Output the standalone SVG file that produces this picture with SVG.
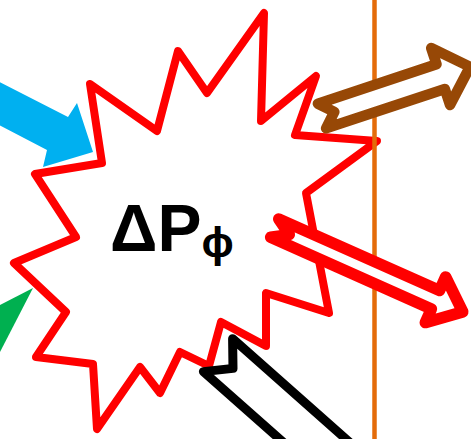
<svg xmlns="http://www.w3.org/2000/svg" width="471" height="439" viewBox="0 0 471 439">
  <style>
    .star { fill: #FFFFFF; stroke: #FF0000; stroke-width: 8; stroke-linejoin: round; }
    .outline-arrow { fill: #FFFFFF; stroke-linejoin: round; }
    .label { font-family: "Liberation Sans", Arial, sans-serif; font-weight: bold; fill: #000000; }
  </style>
  <rect width="471" height="439" fill="#FFFFFF"/>
  <g id="node-delta-p">
    <polygon class="star" points="90,84 157,131 178,51 207,93 264,13 261,121 316,76 295,135 377,141 306,193 329,313 266,293 266,346 221,322 209,366 180,352 160,393 140,367 97,429 93,364 36,357 66,312 14,263 76,237 35,174 102,163"/>
    <text class="label" x="110" y="251" font-size="66">ΔP<tspan font-size="43" dy="6">ϕ</tspan></text>
  </g>
  <g id="divider">
    <line x1="374.5" y1="0" x2="374.5" y2="439" stroke="#E46C0A" stroke-width="4.5"/>
  </g>
  <g id="connectors">
    <polygon id="arrow-blue" fill="#00B0F0" points="-20,72 68,117 77,103 93,152 43,167 47,150 -20,115"/>
    <polygon id="arrow-green" fill="#00B050" points="-10,310.2 33,288 -5,361.7"/>
    <polygon id="arrow-black" class="outline-arrow" stroke="#000000" stroke-width="9" points="232.6,338.7 416.8,501.8 387.7,534.7 203.4,371.6 233,368.4"/>
    <polygon id="arrow-brown" class="outline-arrow" stroke="#974806" stroke-width="10.5" points="317.9,103.7 436.5,64.2 431.2,48.1 470,66.8 450.0,105.0 444.8,88.9 326.1,128.3 334.3,111.9"/>
    <polygon id="arrow-red" class="outline-arrow" stroke="#FF0000" stroke-width="11.5" points="278.7,219 439.5,290.6 445.6,276.9 462.8,311.9 425.3,322.6 431.4,308.9 270.6,237.3 289.3,234.6"/>
  </g>
</svg>
